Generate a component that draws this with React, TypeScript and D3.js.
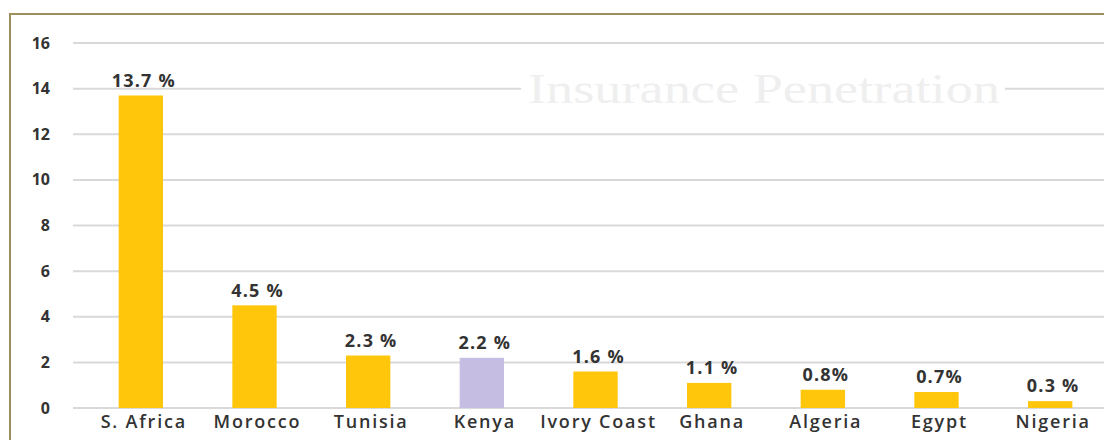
import React from "react";
import * as d3 from "d3";

const categories = ["S. Africa", "Morocco", "Tunisia", "Kenya", "Ivory Coast", "Ghana", "Algeria", "Egypt", "Nigeria"];
const values = [13.7, 4.5, 2.3, 2.2, 1.6, 1.1, 0.8, 0.7, 0.3];
const valueLabels = ["13.7 %", "4.5 %", "2.3 %", "2.2 %", "1.6 %", "1.1 %", "0.8%", "0.7%", "0.3 %"];
const highlighted = ["Kenya"];
const yTicks = [0, 2, 4, 6, 8, 10, 12, 14, 16];
const title = "Insurance Penetration";

export default function App() {
  const W = 1104, H = 440;
  const x = d3.scaleBand<string>().domain(categories).range([84, 1107]).paddingInner(0.61).paddingOuter(0.305);
  const y = d3.scaleLinear().domain([0, 16]).range([408, 43]);
  const font = "'Open Sans', 'DejaVu Sans', sans-serif";
  const titleY = y(14);
  return (
    <div style={{ position: "absolute", left: 0, top: 0 }}>
      <svg width={W} height={H} style={{ display: "block", background: "#fff" }}>
        <rect x={10} y={14} width={W + 10} height={H + 10} fill="#fff" stroke="#9c8f5a" strokeWidth={2} />
        {yTicks.map((t) => (
          <g key={t}>
            <line x1={73} x2={W} y1={y(t)} y2={y(t)} stroke="#d9d9d9" strokeWidth={2} />
            <text x={50} y={y(t)} dy="0.35em" textAnchor="end" fontFamily={font} fontWeight={700} fontSize={16} fill="#333">
              {t}
            </text>
          </g>
        ))}
        <rect x={521} y={titleY - 22} width={484} height={44} fill="#fff" />
        <text x={528} y={titleY} dy="0.35em" textLength={472} lengthAdjust="spacingAndGlyphs" fontFamily="'Liberation Serif', 'DejaVu Serif', serif" fontSize={42} fill="#efefef">
          {title}
        </text>
        {categories.map((c, i) => {
          const bx = x(c)!;
          const bw = x.bandwidth();
          const cx = bx + bw / 2;
          return (
            <g key={c}>
              <rect x={bx} y={y(values[i])} width={bw} height={y(0) - y(values[i])} fill={highlighted.includes(c) ? "#c5bde2" : "#ffc60b"} />
              <text x={cx + 3} y={y(values[i]) - 15} dy="0.35em" textAnchor="middle" fontFamily={font} fontWeight={700} fontSize={18} letterSpacing={1.2} fill="#333">
                {valueLabels[i]}
              </text>
              <text x={cx + 3} y={422} dy="0.35em" textAnchor="middle" fontFamily={font} fontWeight={600} fontSize={18} letterSpacing={1.8} fill="#333">
                {c}
              </text>
            </g>
          );
        })}
      </svg>
    </div>
  );
}
